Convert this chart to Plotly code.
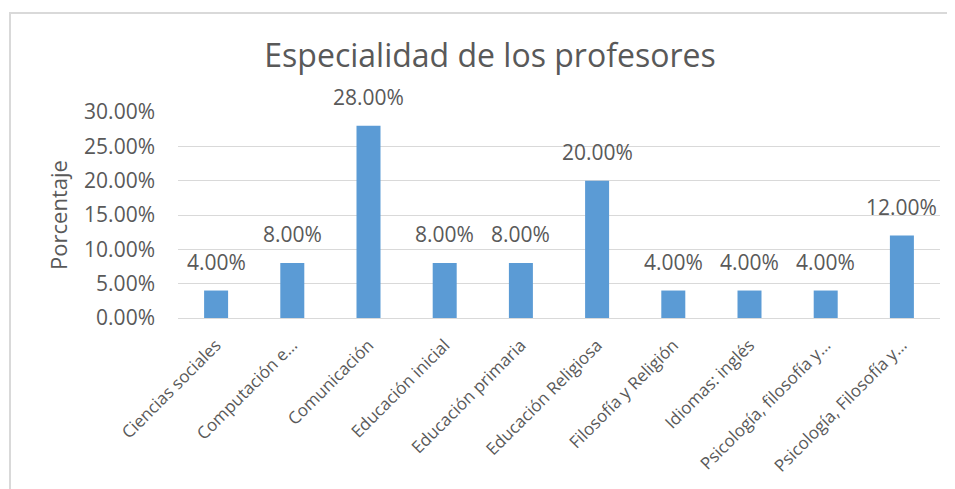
import plotly.graph_objects as go

categories = [
    "Ciencias sociales",
    "Computación e…",
    "Comunicación",
    "Educación inicial",
    "Educación primaria",
    "Educación Religiosa",
    "Filosofía y Religión",
    "Idiomas: inglés",
    "Psicología, filosofía y…",
    "Psicología, Filosofía y…",
]
values = [0.04, 0.08, 0.28, 0.08, 0.08, 0.20, 0.04, 0.04, 0.04, 0.12]
tick_vals = [0, 0.05, 0.10, 0.15, 0.20, 0.25, 0.30]

FONT = "Open Sans"
GREY = "#595959"

fig = go.Figure()
fig.add_trace(go.Bar(
    x=categories,
    y=values,
    marker=dict(color="#5B9BD5", line=dict(width=0)),
    hoverinfo="x+y",
))

for c, v in zip(categories, values):
    fig.add_annotation(
        x=c, y=v, xref="x", yref="y",
        text=f"{v*100:.2f}%",
        showarrow=False, yanchor="bottom", yshift=13,
        font=dict(family=FONT, size=21, color=GREY),
    )

# page body has an 8px margin; figure is sized to fill the rest of the window
OFF = 8
W, H = 955 - OFF, 489 - OFF
L, R, T, B = 178 - OFF, 15, 112 - OFF, 171
pw, ph = W - L - R, H - T - B

fig.add_shape(
    type="rect", xref="paper", yref="paper",
    x0=(10 - OFF - L) / pw, x1=(W + 10 - L) / pw,
    y0=(H - B - (H + 10)) / ph, y1=(H - B - (13 - OFF)) / ph,
    line=dict(color="#d9d9d9", width=2), fillcolor="rgba(0,0,0,0)",
    layer="below",
)

fig.update_layout(
    width=W, height=H,
    margin=dict(l=L, r=R, t=T, b=B, autoexpand=False),
    paper_bgcolor="white", plot_bgcolor="white",
    bargap=0.685,
    showlegend=False,
    title=dict(
        text="Especialidad de los profesores",
        x=(490 - OFF) / W, xref="container", xanchor="center",
        y=1 - (56 - OFF) / H, yref="container", yanchor="middle",
        font=dict(family=FONT, size=32, color=GREY),
    ),
    font=dict(family=FONT, color=GREY),
)
fig.update_xaxes(
    tickangle=-45,
    tickfont=dict(family=FONT, size=17, color=GREY),
    showgrid=False, showline=False, ticks="",
    zeroline=False,
    ticklabelstandoff=13,
)
fig.update_yaxes(
    range=[0, 0.30],
    tickvals=tick_vals,
    tickformat=".2%",
    tickfont=dict(family=FONT, size=21, color=GREY),
    showgrid=True, gridcolor="#d9d9d9", gridwidth=1,
    zeroline=True, zerolinecolor="#d9d9d9", zerolinewidth=1,
    showline=False, ticks="",
    ticklabelstandoff=22,
    title=dict(text="Porcentaje", font=dict(family=FONT, size=22, color=GREY), standoff=10),
)

fig.write_html("out.html")
